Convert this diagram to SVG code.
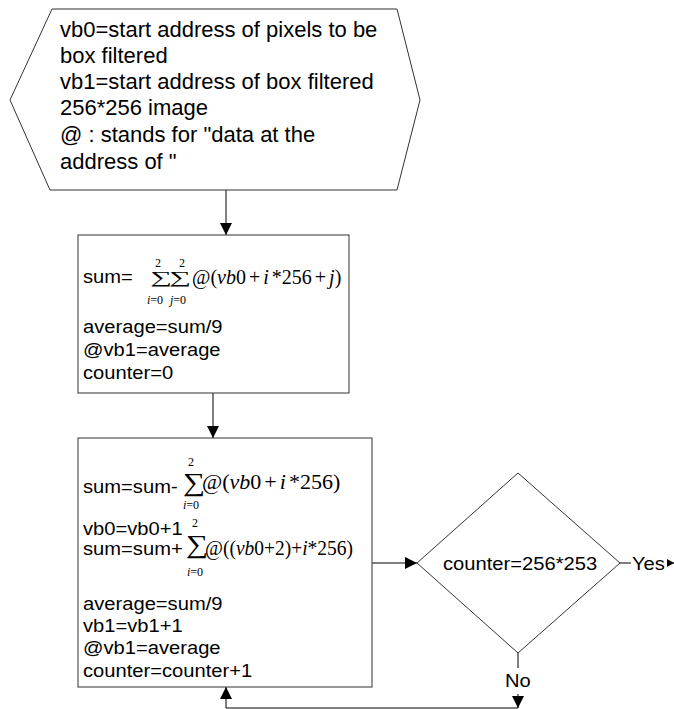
<svg xmlns="http://www.w3.org/2000/svg" width="674" height="709" viewBox="0 0 674 709">
  <style>
    .shape { fill: #ffffff; stroke: #333333; stroke-width: 1; }
    .wire { fill: none; stroke: #000000; stroke-width: 1; }
    .hx { font-family: "Liberation Sans", Arial, sans-serif; font-size: 22px; fill: #000; }
    .t { font-family: "Liberation Sans", Arial, sans-serif; font-size: 18.5px; fill: #000; }
    .m { font-family: "Liberation Serif", "Times New Roman", serif; fill: #000; }
    .it { font-style: italic; }
  </style>
  <defs>
    <marker id="arrow" viewBox="0 0 12 12" refX="12" refY="6" markerWidth="12" markerHeight="12" markerUnits="userSpaceOnUse" orient="auto">
      <path d="M0,0 L12,6 L0,12 z" fill="#000"/>
    </marker>
    <marker id="arrowSmall" viewBox="0 0 7 8" refX="7" refY="4" markerWidth="7" markerHeight="8" markerUnits="userSpaceOnUse" orient="auto">
      <path d="M0,0 L7,4 L0,8 z" fill="#000"/>
    </marker>
  </defs>

  <rect width="674" height="709" fill="#ffffff"/>

  <!-- connectors -->
  <g id="connectors">
    <path class="wire" d="M226,190 V235" marker-end="url(#arrow)"/>
    <path class="wire" d="M213,393 V438" marker-end="url(#arrow)"/>
    <path class="wire" d="M372,563 H417" marker-end="url(#arrow)"/>
    <path class="wire" d="M620,563 H631"/>
    <path class="wire" d="M667,563 H674" marker-end="url(#arrowSmall)"/>
    <path class="wire" d="M518,653 V668"/>
    <path class="wire" d="M518,694 V708" marker-end="url(#arrow)"/>
    <path class="wire" d="M518,708 H226 V687" stroke="#999" marker-end="url(#arrow)"/>
    <text class="t" transform="translate(632 570) scale(1.09 1)">Yes</text>
    <text class="t" transform="translate(505 687) scale(1.09 1)">No</text>
  </g>

  <!-- input / definitions -->
  <g id="node-input">
    <polygon class="shape" points="10,100 52,9 397,9 420,100 397,190 50,190"/>
    <text class="hx" x="60" y="37">vb0=start address of pixels to be</text>
    <text class="hx" x="60" y="63">box filtered</text>
    <text class="hx" x="60" y="89">vb1=start address of box filtered</text>
    <text class="hx" x="60" y="115">256*256 image</text>
    <text class="hx" x="60" y="142">@ : stands for "data at the</text>
    <text class="hx" x="60" y="169">address of "</text>
  </g>

  <!-- initial sum -->
  <g id="node-init">
    <rect class="shape" x="78" y="235" width="271" height="158"/>
    <g transform="translate(83 0) scale(1.09 1)">
      <text class="t" x="0" y="283">sum=</text>
      <text class="t" x="0" y="333">average=sum/9</text>
      <text class="t" x="0" y="356">@vb1=average</text>
      <text class="t" x="0" y="379">counter=0</text>
    </g>
    <text class="m" transform="translate(150 283) scale(1.8 1)" font-size="17">∑</text>
    <text class="m" x="155" y="267" font-size="12">2</text>
    <text class="m" x="147" y="304" font-size="12"><tspan class="it">i</tspan>=0</text>
    <text class="m" transform="translate(169 283) scale(1.8 1)" font-size="17">∑</text>
    <text class="m" x="179" y="267" font-size="12">2</text>
    <text class="m" x="170" y="304" font-size="12"><tspan class="it">j</tspan>=0</text>
    <text class="m" x="192" y="284" font-size="20">@(<tspan class="it">vb</tspan>0<tspan dx="3">+</tspan><tspan class="it" dx="3">i</tspan><tspan dx="3">*</tspan>256<tspan dx="3">+</tspan><tspan class="it" dx="3">j</tspan>)</text>
  </g>

  <!-- sliding window update -->
  <g id="node-update">
    <rect class="shape" x="78" y="438" width="294" height="249"/>
    <g transform="translate(83 0) scale(1.09 1)">
      <text class="t" x="0" y="493">sum=sum-</text>
      <text class="t" x="0" y="535">vb0=vb0+1</text>
      <text class="t" x="0" y="555">sum=sum+</text>
      <text class="t" x="0" y="610">average=sum/9</text>
      <text class="t" x="0" y="632">vb1=vb1+1</text>
      <text class="t" x="0" y="654">@vb1=average</text>
      <text class="t" x="0" y="677">counter=counter+1</text>
    </g>
    <text class="m" transform="translate(183 491) scale(1.2 1)" font-size="26">∑</text>
    <text class="m" x="188" y="466" font-size="12">2</text>
    <text class="m" x="183" y="509" font-size="12"><tspan class="it">i</tspan>=0</text>
    <text class="m" x="202" y="489" font-size="22">@(<tspan class="it">vb</tspan>0<tspan dx="3">+</tspan><tspan class="it" dx="3">i</tspan><tspan dx="3">*</tspan>256)</text>
    <text class="m" transform="translate(186 553) scale(1.2 1)" font-size="26">∑</text>
    <text class="m" x="192" y="527" font-size="12">2</text>
    <text class="m" x="187" y="576" font-size="12"><tspan class="it">i</tspan>=0</text>
    <text class="m" x="205" y="555" font-size="22" textLength="148" lengthAdjust="spacingAndGlyphs">@((<tspan class="it">vb</tspan>0+2)+<tspan class="it">i</tspan>*256)</text>
  </g>

  <!-- loop test -->
  <g id="node-test">
    <polygon class="shape" points="518,473 620,563 518,653 417,563"/>
    <text class="t" transform="translate(443 570) scale(1.09 1)">counter=256*253</text>
  </g>
</svg>
